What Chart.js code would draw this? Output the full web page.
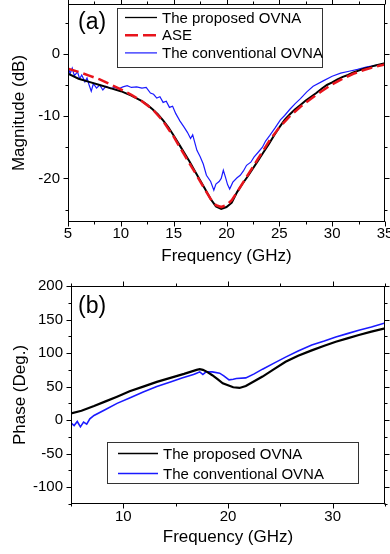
<!DOCTYPE html>
<html>
<head>
<meta charset="utf-8">
<script src="https://cdn.jsdelivr.net/npm/chart.js@4/dist/chart.umd.min.js"></script>
<style>
  body { margin: 0; background: #fff; }
  #wrap { position: relative; width: 390px; height: 554px; }
  #magBox { position: absolute; left: 0; top: 0; width: 390px; height: 270px; }
  #phaseBox { position: absolute; left: 0; top: 270px; width: 390px; height: 284px; }
</style>
</head>
<body>
<div id="wrap">
  <div id="magBox"><canvas id="magChart"></canvas></div>
  <div id="phaseBox"><canvas id="phaseChart"></canvas></div>
</div>
<script>
// ---- (a) magnitude, dB ----
const magFreqProposed = [5.0, 6.0, 7.0, 8.0, 9.0, 10.0, 11.0, 12.0, 12.5, 13.0, 13.5, 14.0, 14.5, 15.0, 15.5, 16.0, 16.5, 17.0, 17.5, 18.0, 18.5, 19.0, 19.5, 20.0, 20.5, 21.0, 21.5, 22.0, 22.5, 23.0, 23.5, 24.0, 24.5, 25.0, 25.5, 26.0, 26.5, 27.0, 27.5, 28.0, 28.5, 29.0, 29.5, 30.0, 30.5, 31.0, 31.5, 32.0, 32.5, 33.0, 33.5, 34.0, 34.5, 35.0];
const magProposed = [-3.2, -4.0, -4.5, -5.0, -5.5, -6.0, -6.7, -7.6, -8.2, -8.9, -9.7, -10.7, -11.8, -13.1, -14.5, -15.9, -17.3, -18.8, -20.3, -21.8, -23.3, -24.5, -24.9, -24.6, -23.9, -22.2, -20.9, -19.7, -18.4, -17.1, -15.8, -14.5, -13.1, -11.8, -10.6, -9.7, -8.9, -8.2, -7.5, -6.9, -6.3, -5.6, -5.0, -4.6, -4.1, -3.7, -3.4, -3.0, -2.7, -2.4, -2.2, -1.9, -1.7, -1.5];

const magFreqAse = [5.0, 6.0, 7.0, 8.0, 9.0, 10.0, 11.0, 12.0, 13.0, 14.0, 15.0, 16.0, 17.0, 18.0, 18.5, 19.0, 19.5, 20.0, 20.5, 21.0, 22.0, 23.0, 24.0, 25.0, 26.0, 27.0, 28.0, 29.0, 30.0, 31.0, 32.0, 33.0, 34.0, 35.0];
const magAse = [-2.4, -2.9, -3.5, -4.1, -4.9, -5.7, -6.6, -7.6, -8.9, -10.8, -13.3, -16.2, -19.0, -21.9, -23.3, -24.3, -24.6, -24.3, -23.5, -22.2, -19.5, -16.8, -14.1, -11.8, -10.0, -8.5, -7.2, -6.0, -4.9, -4.0, -3.2, -2.6, -2.1, -1.7];

const magFreqConv = [5.0, 5.2, 5.4, 5.6, 5.9, 6.1, 6.3, 6.6, 6.8, 7.0, 7.2, 7.4, 7.7, 8.0, 8.3, 8.6, 9.0, 9.4, 9.8, 10.2, 10.6, 11.0, 11.5, 12.0, 12.4, 12.8, 13.1, 13.4, 13.7, 14.0, 14.3, 14.6, 14.9, 15.2, 15.6, 16.0, 16.3, 16.6, 16.8, 17.2, 17.5, 17.8, 18.1, 18.5, 18.8, 19.0, 19.3, 19.5, 19.7, 19.9, 20.1, 20.3, 20.6, 21.0, 21.3, 21.6, 21.9, 22.3, 22.6, 23.0, 23.4, 23.7, 24.1, 24.6, 25.1, 25.5, 26.0, 26.5, 27.0, 27.6, 28.2, 29.2, 30.0, 30.8, 31.6, 32.4, 33.3, 34.0, 35.0];
const magConv = [-2.0, -3.2, -2.3, -3.5, -2.9, -4.0, -3.4, -4.5, -3.9, -5.0, -6.0, -4.8, -5.5, -5.0, -5.8, -5.2, -5.6, -5.4, -5.6, -5.3, -5.1, -5.4, -5.3, -5.5, -5.4, -6.3, -6.5, -7.1, -6.9, -7.8, -7.6, -8.6, -8.4, -9.6, -10.8, -11.8, -12.6, -13.6, -13.0, -15.5, -16.5, -17.7, -19.5, -20.5, -21.9, -20.9, -20.5, -20.0, -18.7, -19.8, -21.0, -21.7, -20.6, -19.9, -19.5, -18.8, -17.9, -17.4, -16.6, -15.8, -15.0, -14.0, -13.1, -11.9, -10.6, -9.9, -8.9, -8.0, -7.2, -6.1, -5.2, -4.3, -3.6, -3.1, -2.8, -2.5, -2.1, -1.9, -1.6];

const magXTicks = [5, 10, 15, 20, 25, 30, 35];
const magXMinor = [7.5, 12.5, 17.5, 22.5, 27.5, 32.5];
const magYTicks = [-20, -10, 0];
const magYMinor = [-25, -15, -5, 5];

// ---- (b) phase, degrees ----
const phaseFreqProposed = [5.0, 6.0, 7.2, 8.3, 9.4, 10.6, 11.9, 13.2, 14.5, 15.8, 17.0, 17.3, 17.6, 18.0, 18.5, 19.0, 19.5, 20.0, 20.5, 21.1, 21.7, 22.5, 23.3, 24.4, 25.5, 26.7, 28.0, 29.2, 30.3, 31.4, 32.5, 33.7, 35.0];
const phaseProposed = [10, 14, 21, 28, 35, 43, 50, 57, 63, 69, 75, 76, 75, 72, 67, 61, 55, 52, 49, 48, 51, 58, 65, 76, 87, 96, 104, 111, 117, 122, 127, 132, 137];

const phaseFreqConv = [5.0, 5.3, 5.6, 5.9, 6.2, 6.5, 6.8, 7.2, 8.3, 9.4, 10.6, 11.9, 13.2, 14.5, 15.6, 16.7, 17.0, 17.3, 17.6, 17.9, 18.5, 19.2, 19.6, 20.1, 20.5, 20.8, 21.7, 22.5, 23.3, 24.4, 25.5, 26.7, 28.0, 29.2, 30.3, 31.4, 32.5, 33.7, 35.0];
const phaseConv = [-4, -8, -2, -10, -3, -6, 2, 7, 16, 25, 33, 42, 50, 57, 63, 68, 70, 72, 68, 72, 72, 70, 66, 60, 61, 62, 63, 69, 76, 85, 94, 103, 112, 118, 124, 129, 134, 139, 145];

const phaseXTicks = [10, 20, 30];
const phaseXMinor = [5, 15, 25, 35];
const phaseYTicks = [-100, -50, 0, 50, 100, 150, 200];
const phaseYMinor = [-125, -75, -25, 25, 75, 125, 175];

const FONT = "'Liberation Sans', Arial, sans-serif";
const INK = '#000';

function pts(xs, ys) {
  return xs.map((x, i) => ({ x: x, y: ys[i] }));
}

// box, outward ticks on all four sides, panel tag and legend
const framePlugin = {
  id: 'frame',
  afterDatasetsDraw(chart, args, opts) {
    const { ctx, chartArea: a, scales } = chart;
    ctx.save();
    ctx.strokeStyle = INK;
    ctx.lineWidth = 1;
    const L = Math.round(a.left) + 0.5, R = Math.round(a.right) - 0.5;
    const T = Math.round(a.top) + 0.5, B = Math.round(a.bottom) - 0.5;
    ctx.strokeRect(L, T, R - L, B - T);

    const seg = (x1, y1, x2, y2) => { ctx.beginPath(); ctx.moveTo(x1, y1); ctx.lineTo(x2, y2); ctx.stroke(); };
    const xTick = (v, len) => {
      const p = Math.round(scales.x.getPixelForValue(v)) + 0.5;
      seg(p, B, p, B + len);
      seg(p, T, p, T - len);
    };
    const yTick = (v, len) => {
      const p = Math.round(scales.y.getPixelForValue(v)) + 0.5;
      seg(L, p, L - len, p);
      seg(R, p, R + len, p);
    };
    opts.xMajor.forEach(v => xTick(v, 5));
    opts.xMinor.forEach(v => xTick(v, 3));
    opts.yMajor.forEach(v => yTick(v, 5));
    opts.yMinor.forEach(v => yTick(v, 3));

    // panel tag
    ctx.fillStyle = INK;
    ctx.font = '23px ' + FONT;
    ctx.textBaseline = 'middle';
    ctx.textAlign = 'left';
    ctx.fillText(opts.tag, opts.tagX, opts.tagY);

    // legend
    const lg = opts.legend;
    ctx.fillStyle = '#fff';
    ctx.fillRect(lg.x, lg.y, lg.w, lg.h);
    ctx.strokeStyle = '#333';
    ctx.lineWidth = 1;
    ctx.strokeRect(lg.x + 0.5, lg.y + 0.5, lg.w, lg.h);
    ctx.font = '15px ' + FONT;
    chart.data.datasets.forEach((ds, i) => {
      const y = lg.row0 + i * lg.rowH;
      ctx.save();
      ctx.strokeStyle = ds.borderColor;
      ctx.lineWidth = ds.legendWidth || ds.borderWidth;
      ctx.setLineDash(ds.borderDash ? [13, 5] : []);
      seg(lg.x + lg.sx0, y, lg.x + lg.sx1, y);
      ctx.restore();
      ctx.fillStyle = INK;
      ctx.fillText(ds.label, lg.x + lg.tx, y + 1);
    });
    ctx.restore();
  }
};

function makeScales(cfg) {
  return {
    x: {
      type: 'linear', min: cfg.xMin, max: cfg.xMax,
      afterBuildTicks: s => { s.ticks = cfg.xTicks.map(v => ({ value: v })); },
      afterFit: s => { s.height = cfg.xHeight; s.paddingLeft = 0; s.paddingRight = 0; },
      grid: { display: false, drawTicks: false },
      border: { display: false },
      ticks: { color: INK, font: { family: FONT, size: 15 }, padding: cfg.xPad, maxRotation: 0, autoSkip: false },
      title: { display: true, text: 'Frequency (GHz)', color: INK, font: { family: FONT, size: 17 }, padding: { top: 0, bottom: cfg.xTitlePad } }
    },
    y: {
      type: 'linear', min: cfg.yMin, max: cfg.yMax,
      afterBuildTicks: s => { s.ticks = cfg.yTicks.map(v => ({ value: v })); },
      afterFit: s => { s.width = cfg.yWidth; s.paddingTop = 0; s.paddingBottom = 0; },
      grid: { display: false, drawTicks: false },
      border: { display: false },
      ticks: { color: INK, font: { family: FONT, size: 15 }, padding: 8 },
      title: { display: true, text: cfg.yTitle, color: INK, font: { family: FONT, size: 17 }, padding: { top: cfg.yTitlePad, bottom: 0 } }
    }
  };
}

const common = {
  animation: false,
  responsive: true,
  maintainAspectRatio: false,
  devicePixelRatio: 1,
  elements: { point: { radius: 0 }, line: { tension: 0 } },
  plugins: { legend: { display: false }, tooltip: { enabled: false } }
};

new Chart(document.getElementById('magChart'), {
  type: 'line',
  data: {
    datasets: [
      { label: 'The proposed OVNA', data: pts(magFreqProposed, magProposed), borderColor: '#000', borderWidth: 2, legendWidth: 1.3, order: 1 },
      { label: 'ASE', data: pts(magFreqAse, magAse), borderColor: '#e8141c', borderWidth: 2.5, borderDash: [11, 5], order: 0 },
      { label: 'The conventional OVNA', data: pts(magFreqConv, magConv), borderColor: '#1a1aff', borderWidth: 1.2, order: 2 }
    ]
  },
  options: Object.assign({}, common, {
    layout: { padding: { top: 4, right: 5, left: 0, bottom: 0 } },
    scales: makeScales({
      xMin: 5, xMax: 35, xTicks: magXTicks, xHeight: 48, xPad: 3, xTitlePad: 3,
      yMin: -27, yMax: 8, yTicks: magYTicks, yWidth: 68, yTitle: 'Magnitude (dB)', yTitlePad: 9
    }),
    plugins: Object.assign({}, common.plugins, {
      frame: {
        xMajor: magXTicks, xMinor: magXMinor, yMajor: magYTicks, yMinor: magYMinor,
        tag: '(a)', tagX: 78, tagY: 23,
        legend: { x: 117, y: 8, w: 205, h: 59, row0: 17.5, rowH: 17.7, sx0: 8, sx1: 40, tx: 45 }
      }
    })
  }),
  plugins: [framePlugin]
});

new Chart(document.getElementById('phaseChart'), {
  type: 'line',
  data: {
    datasets: [
      { label: 'The proposed OVNA', data: pts(phaseFreqProposed, phaseProposed), borderColor: '#000', borderWidth: 2.2, legendWidth: 1.3, order: 0 },
      { label: 'The conventional OVNA', data: pts(phaseFreqConv, phaseConv), borderColor: '#1a1aff', borderWidth: 1.6, legendWidth: 1.6, order: 1 }
    ]
  },
  options: Object.assign({}, common, {
    layout: { padding: { top: 16, right: 5, left: 0, bottom: 0 } },
    scales: makeScales({
      xMin: 5, xMax: 35, xTicks: phaseXTicks, xHeight: 50, xPad: 4, xTitlePad: 6,
      yMin: -125, yMax: 200, yTicks: phaseYTicks, yWidth: 71, yTitle: 'Phase (Deg.)', yTitlePad: 10
    }),
    plugins: Object.assign({}, common.plugins, {
      frame: {
        xMajor: phaseXTicks, xMinor: phaseXMinor, yMajor: phaseYTicks, yMinor: phaseYMinor,
        tag: '(b)', tagX: 78, tagY: 37,
        legend: { x: 107, y: 172, w: 251, h: 41, row0: 183.5, rowH: 20, sx0: 11, sx1: 51, tx: 56 }
      }
    })
  }),
  plugins: [framePlugin]
});
</script>
</body>
</html>
